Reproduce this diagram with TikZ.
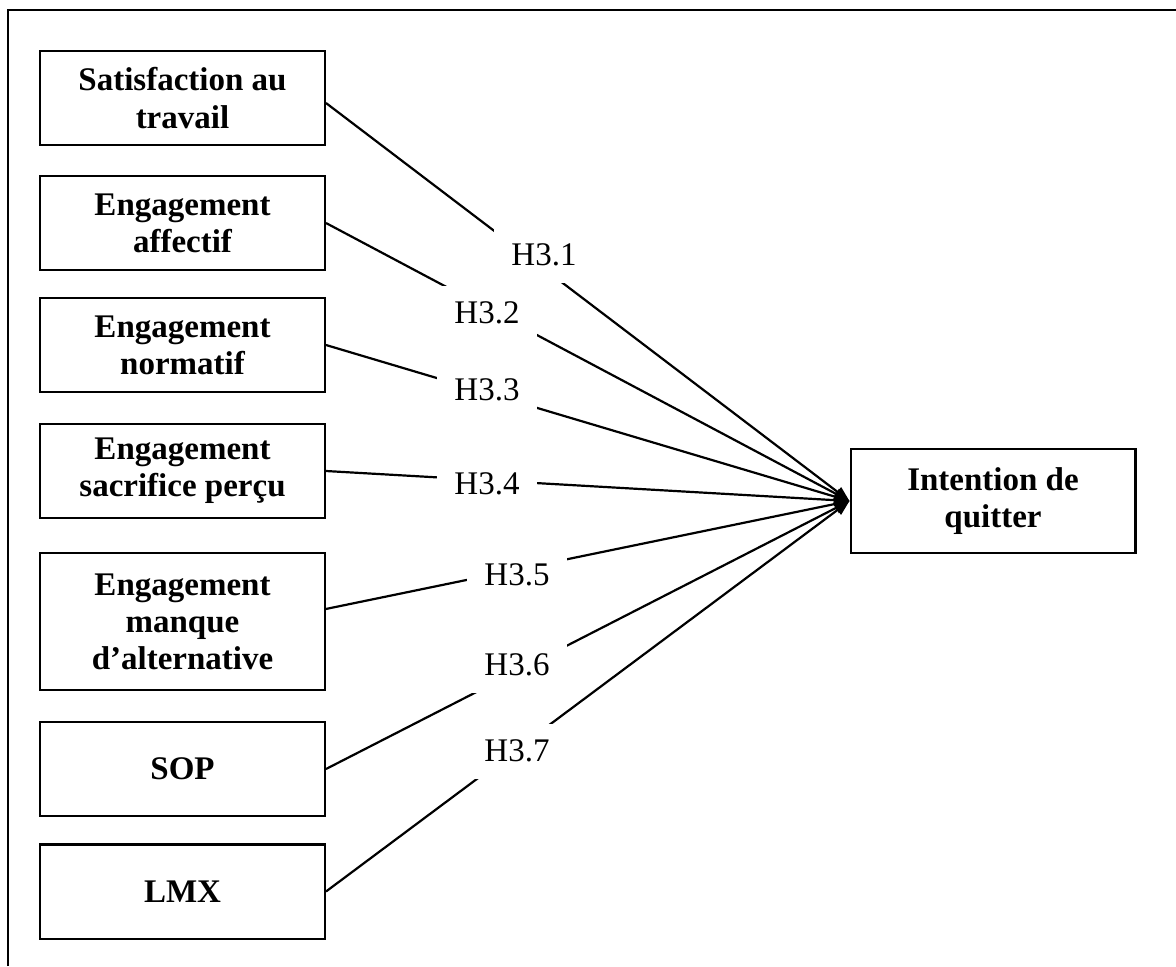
\documentclass[tikz,border=0pt]{standalone}
\usepackage{fontspec}
\setmainfont{Liberation Serif}
\usetikzlibrary{arrows.meta}

\tikzset{
  var/.style={draw, line width=0.75pt, minimum width=103.6pt, minimum height=34.2pt,
    inner sep=0pt, align=center, font=\fontsize{12}{13.5}\selectfont\bfseries},
  hyp/.style={fill=white, minimum width=36pt, minimum height=20pt, inner sep=0pt,
    font=\fontsize{12}{13.5}\selectfont},
  link/.style={line width=0.8pt, -{Triangle[length=5.5pt,width=4.2pt]}}
}

\begin{document}
\begin{tikzpicture}[x=0.3636pt, y=-0.3636pt]
  \useasboundingbox (0,0) rectangle (1176,966);
  % frame (only top and left are visible)
  \draw[line width=0.8pt] (8,966) -- (8,10) -- (1176,10);

  % independent variables
  \node[var] (b1) at (182.5,98) {Satisfaction au\\travail};
  \node[var] (b2) at (182.5,223) {Engagement\\affectif};
  \node[var] (b3) at (182.5,345) {Engagement\\normatif};
  \node[var] (b4) at (182.5,471) {Engagement\\sacrifice perçu};
  \node[var, minimum height=49.8pt] (b5) at (182.5,621.5) {Engagement\\manque\\d’alternative};
  \node[var] (b6) at (182.5,769) {SOP};
  \node[var] (b7) at (182.5,891.5) {LMX};

  % dependent variable
  \node[var, minimum height=37.8pt] (int) at (993,501) {Intention de\\quitter};

  % hypotheses
  \foreach \src/\anc in {b1/-2, b2/east, b3/east, b4/east, b5/5, b6/east, b7/east}
    \draw[link] (\src.\anc) -- (int.west);

  \foreach \i/\xx/\yy in {1/544/255, 2/487/313, 3/487/390, 4/487/484,
                          5/517/575, 6/517/665, 7/517/751}
    \node[hyp] (h\i) at (\xx,\yy) {H3.\i};
\end{tikzpicture}
\end{document}
